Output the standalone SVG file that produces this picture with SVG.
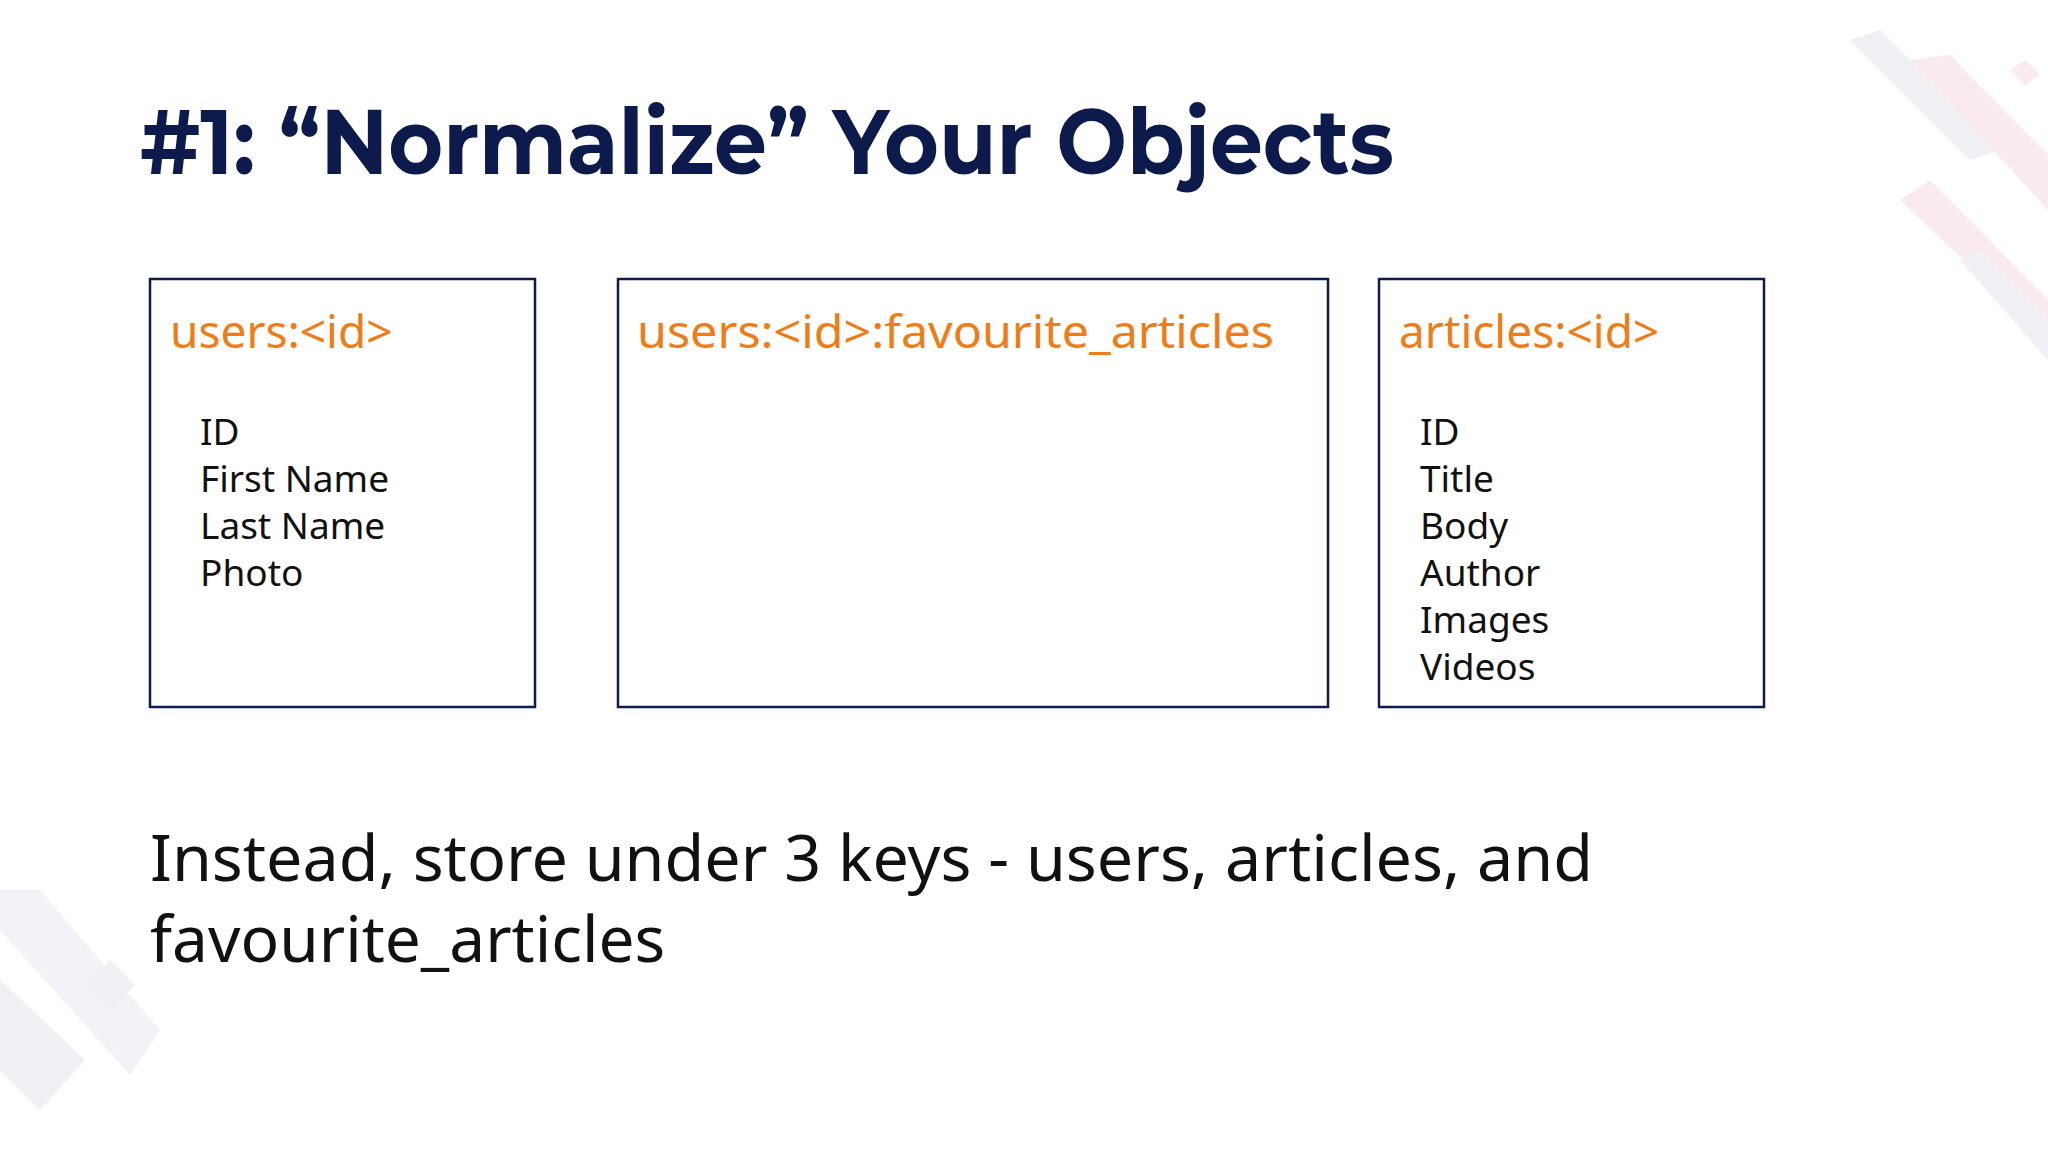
<svg xmlns="http://www.w3.org/2000/svg" width="2048" height="1152" viewBox="0 0 2048 1152">
<style>
.box{fill:#fff;stroke:#0d1b4c;stroke-width:2.5}
.key{font-family:"Noto Sans","Open Sans",sans-serif;font-size:46px;fill:#f07c16}
.fld{font-family:"Noto Sans","Open Sans",sans-serif;font-size:37px;fill:#111}
</style>
<rect width="2048" height="1152" fill="#fff"/>
<g id="decor" opacity="0.6">
<polygon points="1850,40 1880,30 2000,150 1970,160" fill="#e6e6ee"/>
<polygon points="1910,60 1950,55 2048,155 2048,210" fill="#f6dde2"/>
<polygon points="1900,200 1930,180 2048,300 2048,340" fill="#f6dde2"/>
<polygon points="1960,260 1980,250 2048,320 2048,360" fill="#e6e6ee"/>
<polygon points="2010,70 2025,60 2040,75 2025,85" fill="#f6dde2"/>
<polygon points="0,890 40,890 160,1030 130,1075 0,930" fill="#ececf2"/>
<polygon points="0,980 0,1070 40,1110 85,1060" fill="#e6e6ee"/>
<polygon points="85,985 110,960 135,985 110,1010" fill="#e6e6ee"/>
</g>
<g id="title"><text x="140" y="174" font-family="Montserrat,'Noto Sans','Open Sans',sans-serif" font-weight="bold" font-size="92" fill="#0d1b4c" textLength="1254" lengthAdjust="spacingAndGlyphs">#1: “Normalize” Your Objects</text></g>
<g id="users">
<rect class="box" x="150" y="279" width="385" height="428"/>
<text class="key" x="170" y="348">users:&lt;id&gt;</text>
<text class="fld" x="200" y="445">ID</text>
<text class="fld" x="200" y="492">First Name</text>
<text class="fld" x="200" y="539">Last Name</text>
<text class="fld" x="200" y="586">Photo</text>
</g>
<g id="favs">
<rect class="box" x="618" y="279" width="710" height="428"/>
<text class="key" x="637" y="348" textLength="637" lengthAdjust="spacingAndGlyphs">users:&lt;id&gt;:favourite_articles</text>
</g>
<g id="articles">
<rect class="box" x="1379" y="279" width="385" height="428"/>
<text class="key" x="1399" y="348">articles:&lt;id&gt;</text>
<text class="fld" x="1420" y="445">ID</text>
<text class="fld" x="1420" y="492">Title</text>
<text class="fld" x="1420" y="539">Body</text>
<text class="fld" x="1420" y="586">Author</text>
<text class="fld" x="1420" y="633">Images</text>
<text class="fld" x="1420" y="680">Videos</text>
</g>
<g id="connectors"/>
<g id="caption">
<text x="150" y="881" font-family="'Noto Sans','Open Sans',sans-serif" font-size="64" fill="#111" textLength="1443" lengthAdjust="spacingAndGlyphs">Instead, store under 3 keys - users, articles, and</text>
<text x="150" y="962" font-family="'Noto Sans','Open Sans',sans-serif" font-size="64" fill="#111">favourite_articles</text>
</g>
</svg>
